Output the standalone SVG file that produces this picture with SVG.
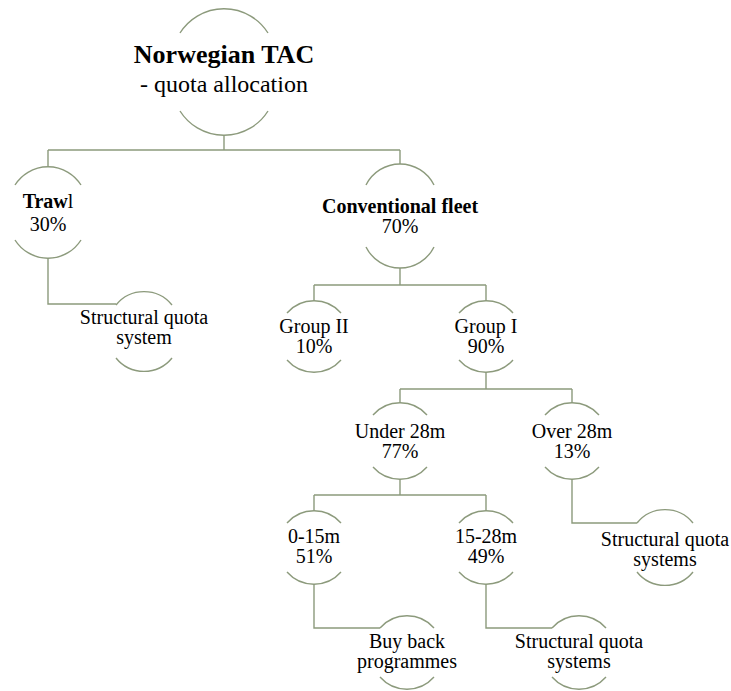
<svg xmlns="http://www.w3.org/2000/svg" width="731" height="691" viewBox="0 0 731 691" font-family="Liberation Serif">
<style>
.arc{fill:none;stroke:#8c9a7c;stroke-width:1.4}
.con{fill:none;stroke:#8c9a7c;stroke-width:1.4}
.t{font-family:'Liberation Serif','Times New Roman',serif;font-size:20px;fill:#000;text-anchor:middle}
.b{font-weight:bold}
.rt{font-size:26px}
.rs{font-size:24px}
</style>
<rect width="731" height="691" fill="#fff"/>
<g id="connectors">
<path class="con" d="M224,135V150M48,150H400M48,150V167M400,150V164"/>
<path class="con" d="M48,258V304H116"/>
<path class="con" d="M400,268V285M314,285H486M314,285V301M486,285V301"/>
<path class="con" d="M486,372V389M400,389H572M400,389V403M572,389V403"/>
<path class="con" d="M400,479V495M314,495H486M314,495V511M486,495V511"/>
<path class="con" d="M572,479V523H637"/>
<path class="con" d="M314,584V628H380"/>
<path class="con" d="M486,584V628H552"/>
</g>
<g id="root">
<path class="arc" d="M180,33A52,52 0 0 1 268,33M180,111A52,52 0 0 0 268,111"/>
<text x="224" y="63" class="t b rt" font-family="Liberation Serif">Norwegian TAC</text>
<text x="224" y="92" class="t rs" font-family="Liberation Serif">- quota allocation</text>
</g>
<g id="trawl">
<path class="arc" d="M15,185A39,39 0 0 1 81,185M15,240A39,39 0 0 0 81,240"/>
<text x="48" y="208" class="t" font-family="Liberation Serif"><tspan class="b">Traw</tspan>l</text>
<text x="48" y="231" class="t" font-family="Liberation Serif">30%</text>
</g>
<g id="trawl-sqs">
<path class="arc" d="M116,305A36,36 0 0 1 172,305M116,358A36,36 0 0 0 172,358"/>
<text x="144" y="324" class="t" font-family="Liberation Serif">Structural quota</text>
<text x="144" y="344" class="t" font-family="Liberation Serif">system</text>
</g>
<g id="conventional">
<path class="arc" d="M366,185A38,38 0 0 1 434,185M366,247A38,38 0 0 0 434,247"/>
<text x="400" y="213" class="t b" font-family="Liberation Serif">Conventional fleet</text>
<text x="400" y="233" class="t" font-family="Liberation Serif">70%</text>
</g>
<g id="group2">
<path class="arc" d="M287,313A36,36 0 0 1 341,313M287,360A36,36 0 0 0 341,360"/>
<text x="314" y="333" class="t" font-family="Liberation Serif">Group II</text>
<text x="314" y="353" class="t" font-family="Liberation Serif">10%</text>
</g>
<g id="group1">
<path class="arc" d="M459,313A36,36 0 0 1 513,313M459,360A36,36 0 0 0 513,360"/>
<text x="486" y="333" class="t" font-family="Liberation Serif">Group I</text>
<text x="486" y="353" class="t" font-family="Liberation Serif">90%</text>
</g>
<g id="under28">
<path class="arc" d="M373,415A36,36 0 0 1 427,415M373,467A36,36 0 0 0 427,467"/>
<text x="400" y="438" class="t" font-family="Liberation Serif">Under 28m</text>
<text x="400" y="458" class="t" font-family="Liberation Serif">77%</text>
</g>
<g id="over28">
<path class="arc" d="M545,415A36,36 0 0 1 599,415M545,467A36,36 0 0 0 599,467"/>
<text x="572" y="438" class="t" font-family="Liberation Serif">Over 28m</text>
<text x="572" y="458" class="t" font-family="Liberation Serif">13%</text>
</g>
<g id="m0-15">
<path class="arc" d="M287,523A36,36 0 0 1 341,523M287,572A36,36 0 0 0 341,572"/>
<text x="314" y="543" class="t" font-family="Liberation Serif">0-15m</text>
<text x="314" y="563" class="t" font-family="Liberation Serif">51%</text>
</g>
<g id="m15-28">
<path class="arc" d="M459,523A36,36 0 0 1 513,523M459,572A36,36 0 0 0 513,572"/>
<text x="486" y="543" class="t" font-family="Liberation Serif">15-28m</text>
<text x="486" y="563" class="t" font-family="Liberation Serif">49%</text>
</g>
<g id="over-sqs">
<path class="arc" d="M637,523A36,36 0 0 1 693,523M637,572A36,36 0 0 0 693,572"/>
<text x="665" y="546" class="t" font-family="Liberation Serif">Structural quota</text>
<text x="665" y="566" class="t" font-family="Liberation Serif">systems</text>
</g>
<g id="buyback">
<path class="arc" d="M380,628A36,36 0 0 1 434,628M380,677A36,36 0 0 0 434,677"/>
<text x="407" y="648" class="t" font-family="Liberation Serif">Buy back</text>
<text x="407" y="668" class="t" font-family="Liberation Serif">programmes</text>
</g>
<g id="m15-28-sqs">
<path class="arc" d="M552,628A36,36 0 0 1 606,628M552,677A36,36 0 0 0 606,677"/>
<text x="579" y="648" class="t" font-family="Liberation Serif">Structural quota</text>
<text x="579" y="668" class="t" font-family="Liberation Serif">systems</text>
</g>
</svg>
